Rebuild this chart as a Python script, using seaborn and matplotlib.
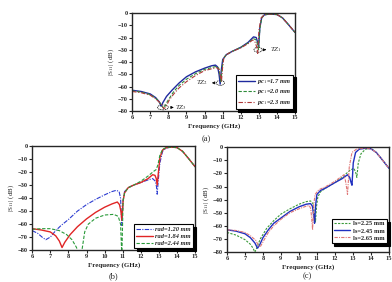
import numpy as np
import pandas as pd
import matplotlib
matplotlib.use("Agg")
import matplotlib.pyplot as plt
import seaborn as sns
from matplotlib.patches import Ellipse

sns.set_theme(style="ticks")
plt.rcParams['font.family'] = ['Liberation Serif', 'DejaVu Serif']
plt.rcParams['mathtext.fontset'] = 'stix'

# ---------------- data (a) ----------------
fa1 = [6, 6.5, 7, 7.3, 7.5, 7.6, 7.7, 7.9, 8.2, 8.6, 9, 9.5, 10, 10.4, 10.6, 10.72, 10.8, 10.86, 10.92, 11.0, 11.2, 11.5, 12, 12.4, 12.7, 12.85, 12.93, 12.98, 13.05, 13.15, 13.3, 13.6, 14.0, 14.3, 14.6, 15]
sa1 = [-63, -64, -66, -69, -72.5, -76, -73, -68, -63, -57, -52, -48, -45, -43, -42.5, -44, -50, -58, -47, -38, -34, -31.5, -28, -24, -19.5, -20, -24, -28, -12, -4, -1.5, -0.8, -1.3, -4, -9, -16]
fa2 = [6, 6.5, 7, 7.3, 7.5, 7.65, 7.75, 7.95, 8.3, 8.6, 9, 9.5, 10, 10.4, 10.65, 10.78, 10.85, 10.9, 10.96, 11.04, 11.2, 11.5, 12, 12.4, 12.7, 12.85, 12.93, 12.98, 13.05, 13.15, 13.3, 13.6, 14.0, 14.3, 14.6, 15]
sa2 = [-63.5, -64.5, -66.5, -69.5, -72.5, -76, -78, -72, -64, -59, -54, -49.5, -46, -44.5, -43.5, -45, -51, -56, -46, -37, -34, -31.5, -28, -24.5, -21, -22, -26, -30, -13, -4, -1.5, -0.8, -1.3, -4, -9, -16]
fa3 = [6, 6.5, 7, 7.3, 7.6, 7.75, 7.85, 8.05, 8.3, 8.6, 9, 9.5, 10, 10.4, 10.65, 10.8, 10.88, 10.93, 10.99, 11.06, 11.2, 11.5, 12, 12.4, 12.65, 12.8, 12.88, 12.93, 13.0, 13.12, 13.3, 13.6, 14.0, 14.3, 14.6, 15]
sa3 = [-64, -65, -67, -70, -74, -78, -77, -71, -66, -61, -56, -51, -47, -45.5, -44.5, -46, -52, -56, -45, -37, -34, -31.5, -28.5, -25, -22, -24, -28, -33, -14, -4, -1.5, -0.8, -1.3, -4, -9, -16]

# ---------------- data (b) ----------------
fb1 = [6, 6.3, 6.55, 6.75, 7.0, 7.3, 7.6, 8, 8.5, 9, 9.5, 10, 10.4, 10.65, 10.8, 10.88, 10.95, 11.02, 11.1, 11.3, 11.6, 12, 12.4, 12.65, 12.8, 12.86, 12.9, 12.97, 13.05, 13.2, 13.4, 13.7, 14.0, 14.3, 14.6, 15]
sb1 = [-65, -67, -70, -72, -70, -65, -61, -56.5, -50, -45, -41, -37.5, -35, -34, -35, -40, -61, -42, -35, -32, -30, -28, -26, -25, -27, -31, -37, -25, -13, -4, -1.5, -0.8, -1.2, -4, -9, -16]
fb2 = [6, 6.5, 7, 7.3, 7.5, 7.65, 7.8, 8.1, 8.5, 9, 9.5, 10, 10.4, 10.7, 10.82, 10.9, 10.95, 11.02, 11.1, 11.3, 11.6, 12, 12.4, 12.65, 12.78, 12.85, 12.9, 12.97, 13.05, 13.2, 13.4, 13.7, 14.0, 14.3, 14.6, 15]
sb2 = [-63.5, -64.5, -66, -69, -73, -78, -74, -68, -62, -56, -51, -47, -44.5, -43, -45, -50, -57, -42, -36, -32, -30, -28, -25, -22, -22.5, -25, -30, -20, -9, -3, -1.2, -0.8, -1.2, -4, -9, -16]
fb3 = [6, 6.5, 7, 7.5, 7.9, 8.2, 8.45, 8.6, 8.75, 8.9, 9.1, 9.5, 10, 10.5, 10.75, 10.88, 10.95, 11.02, 11.1, 11.3, 11.6, 12, 12.4, 12.7, 12.85, 12.95, 13.05, 13.2, 13.4, 13.7, 14.0, 14.3, 14.6, 15]
sb3 = [-64, -63.5, -63.5, -65, -68, -72, -78, -85, -80, -66, -60, -55.5, -53, -52.5, -54, -60, -85, -42, -36, -32, -30, -27, -23, -19.5, -18, -14, -7, -2.5, -1.2, -0.8, -1.2, -4, -9, -16]

# ---------------- data (c) ----------------
fc1 = [6, 6.5, 7, 7.3, 7.45, 7.55, 7.65, 7.85, 8.2, 8.6, 9, 9.5, 10, 10.4, 10.65, 10.78, 10.86, 10.92, 10.98, 11.05, 11.2, 11.5, 12, 12.4, 12.8, 13.05, 13.15, 13.22, 13.3, 13.45, 13.7, 14.0, 14.3, 14.6, 15]
sc1 = [-65, -67, -70.5, -74, -77, -80, -77, -70, -62, -56, -51, -47, -43.5, -41.5, -41, -43, -50, -57, -45, -38, -34, -31, -27, -23, -18, -16, -19, -23, -12, -5, -1.5, -0.8, -4, -9, -16]
fc2 = [6, 6.5, 7, 7.3, 7.55, 7.7, 7.8, 8.0, 8.3, 8.6, 9, 9.5, 10, 10.4, 10.65, 10.75, 10.82, 10.87, 10.93, 11.0, 11.2, 11.5, 12, 12.4, 12.7, 12.82, 12.9, 12.95, 13.02, 13.15, 13.35, 13.7, 14.0, 14.3, 14.6, 15]
sc2 = [-63, -64, -66, -69, -73, -77, -75, -69, -63, -58, -54, -49, -45.5, -43.5, -43, -45, -52, -58, -44, -36, -33, -31, -27, -24, -21, -23, -27, -29, -12, -4, -1.5, -0.8, -1.2, -4, -9, -16]
fc3 = [6, 6.5, 7, 7.3, 7.6, 7.75, 7.85, 8.05, 8.3, 8.6, 9, 9.5, 10, 10.4, 10.58, 10.66, 10.72, 10.76, 10.82, 10.9, 11.1, 11.5, 12, 12.3, 12.5, 12.58, 12.64, 12.7, 12.8, 12.95, 13.2, 13.6, 14.0, 14.3, 14.6, 15]
sc3 = [-63, -63.5, -65, -67.5, -71, -75, -76, -71, -65, -60, -55, -50, -47, -45, -44.5, -47, -56, -63, -44, -36, -32.5, -30, -26, -23, -21, -25, -30, -36, -15, -4, -1.5, -0.8, -1.2, -4, -9, -16]

xticks = list(range(6, 16))
yticks = list(range(-80, 1, 10))

fig = plt.figure(figsize=(3.92, 2.82), dpi=100)
ax_a = fig.add_axes([0.337, 0.606, 0.416, 0.348])
ax_b = fig.add_axes([0.082, 0.113, 0.416, 0.369])
ax_c = fig.add_axes([0.579, 0.106, 0.413, 0.372])

def draw(ax, series):
    for f, s, col, ls, lw, lab in series:
        df = pd.DataFrame({"f": f, "s": s})
        sns.lineplot(data=df, x="f", y="s", ax=ax, color=col, linestyle=ls,
                     linewidth=lw, label=lab, estimator=None, sort=False)

def style(ax):
    ax.set_xlim(6, 15)
    ax.set_ylim(-80, 0)
    ax.set_xticks(xticks)
    ax.set_yticks(yticks)
    ax.tick_params(direction='out', length=2, width=0.8, labelsize=4.6, pad=1)
    for lb in ax.get_xticklabels() + ax.get_yticklabels():
        lb.set_fontweight('bold')
    for sp in ax.spines.values():
        sp.set_linewidth(1.0)
        sp.set_visible(True)
    ax.set_xlabel("Frequency (GHz)", fontsize=5, fontweight='bold', labelpad=2)
    ax.set_ylabel(r"|S$_{11}$| (dB)", fontsize=5, labelpad=1)

def legend(ax, loc, bbox):
    leg = ax.legend(loc=loc, bbox_to_anchor=bbox, fontsize=4.6, frameon=True, fancybox=False,
                    shadow={'color': 'black', 'alpha': 1.0}, edgecolor='black', handlelength=2.6,
                    handletextpad=0.4, borderpad=0.35, labelspacing=0.25, borderaxespad=0.3)
    leg.get_frame().set_linewidth(0.8)
    for t in leg.get_texts():
        t.set_fontweight('bold')
        t.set_fontstyle('italic')

blue = '#1f2a9e'
green = '#2e8b3a'
red_a = '#b03a3a'

draw(ax_a, [
    (fa1, sa1, blue, '-', 1.0, r'pc$_1$=1.7 mm'),
    (fa2, sa2, green, (0, (3, 1.5)), 0.8, r'pc$_1$=2.0 mm'),
    (fa3, sa3, red_a, (0, (4, 1.5, 1, 1.5)), 0.8, r'pc$_1$=2.3 mm'),
])
style(ax_a)
legend(ax_a, 'lower right', (1.0, 0.0))

# annotations in (a)
def tz(ax, cx, cy, w, h, tx, ty, label, side):
    ax.add_patch(Ellipse((cx, cy), w, h, fill=False, ls=(0, (2, 1)), lw=0.5, color='black'))
    if side == 'right':
        ax.annotate("", xy=(tx - 0.05, ty), xytext=(cx + w / 2, ty),
                    arrowprops=dict(arrowstyle='-|>', lw=0.5, color='black', mutation_scale=4))
        ax.text(tx, ty, label, fontsize=5, fontstyle='italic', va='center', ha='left')
    else:
        ax.annotate("", xy=(tx + 0.05, ty), xytext=(cx - w / 2, ty),
                    arrowprops=dict(arrowstyle='-|>', lw=0.5, color='black', mutation_scale=4))
        ax.text(tx, ty, label, fontsize=5, fontstyle='italic', va='center', ha='right')

tz(ax_a, 7.7, -77, 0.6, 4, 8.35, -77, r'TZ$_3$', 'right')
tz(ax_a, 10.87, -57, 0.45, 4, 10.2, -57, r'TZ$_2$', 'left')
tz(ax_a, 12.95, -30, 0.45, 4, 13.6, -30, r'TZ$_1$', 'right')

draw(ax_b, [
    (fb1, sb1, '#2b3bd0', (0, (4, 1.2, 1, 1.2)), 0.8, 'rad=1.20 mm'),
    (fb2, sb2, '#e02525', '-', 1.0, 'rad=1.84 mm'),
    (fb3, sb3, '#2a9a3a', (0, (3, 1.5)), 0.8, 'rad=2.44 mm'),
])
style(ax_b)
legend(ax_b, 'lower right', (1.0, 0.0))

draw(ax_c, [
    (fc1, sc1, '#3a9a3a', (0, (2, 1.2)), 0.8, 'ls=2.25 mm'),
    (fc2, sc2, '#2030c0', '-', 1.0, 'ls=2.45 mm'),
    (fc3, sc3, '#e07878', (0, (3, 1, 1, 1)), 0.8, 'ls=2.65 mm'),
])
style(ax_c)
legend(ax_c, 'lower right', (1.0, 0.07))
for t in ax_c.get_legend().get_texts():
    t.set_fontstyle('normal')

fig.text(0.525, 0.505, "(a)", fontsize=6, ha='center', va='center')
fig.text(0.29, 0.02, "(b)", fontsize=6, ha='center', va='center')
fig.text(0.785, 0.02, "(c)", fontsize=6, ha='center', va='center')

fig.savefig("out.png", dpi=100)
